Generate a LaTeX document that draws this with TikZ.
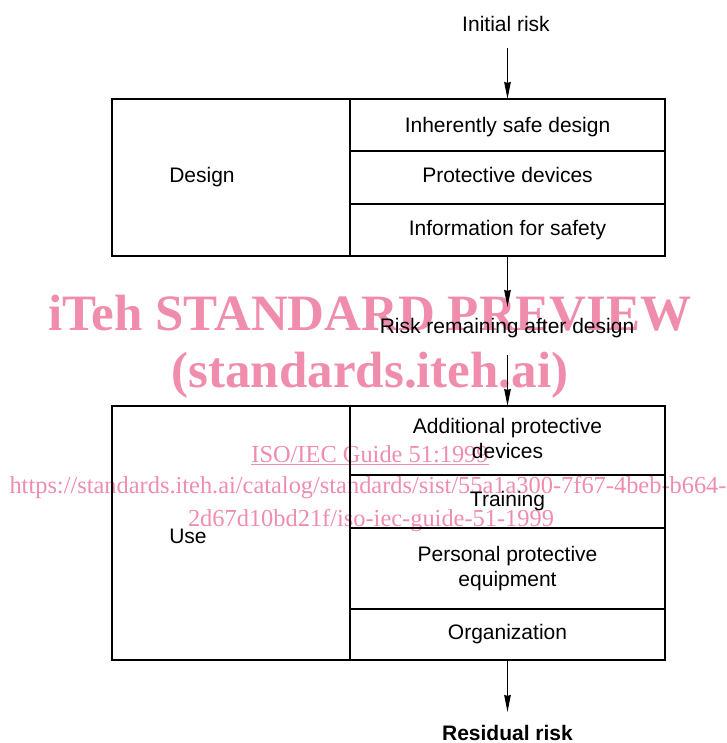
\documentclass[tikz,border=0pt]{standalone}
\usepackage{fontspec}
\setmainfont{Liberation Sans}
\newfontfamily\wmfont{Liberation Serif}
\usetikzlibrary{arrows.meta,positioning}

\definecolor{wmpink}{RGB}{240,140,172}

\tikzset{
    cell/.style={draw, line width=1.7pt, minimum width=315pt, inner sep=0pt,
        outer sep=0pt, align=center, text height=15pt, text depth=4.5pt,
        font=\fontsize{21}{25}\selectfont},
    twoline/.style={text height=40pt},
    frame/.style={draw, line width=1.7pt, minimum width=238pt, inner sep=0pt, outer sep=0pt},
    lbl/.style={inner sep=0pt, anchor=base, font=\fontsize{21}{25}\selectfont},
    flow/.style={line width=1.4pt, -{Stealth[length=17pt,width=6.5pt,inset=1pt]}},
    wm/.style={text=wmpink, inner sep=0pt, anchor=base}
}

\begin{document}
\begin{tikzpicture}[x=1pt, y=-1pt]

\useasboundingbox (0,0) rectangle (726,743);

% ========== watermark ==========
\node[wm, font=\wmfont\bfseries\fontsize{51}{51}\selectfont] (wm1) at (370,330) {iTeh STANDARD PREVIEW};
\node[wm, font=\wmfont\bfseries\fontsize{51}{51}\selectfont] (wm2) at (370,387) {(standards.iteh.ai)};
\node[wm, font=\wmfont\fontsize{24.4}{24.4}\selectfont] (wm3) at (370,462) {\underline{ISO/IEC Guide 51:1999}};
\node[wm, font=\wmfont\fontsize{24.4}{24.4}\selectfont] (wm4) at (368,493) {https://standards.iteh.ai/catalog/standards/sist/55a1a300-7f67-4beb-b664-};
\node[wm, font=\wmfont\fontsize{24.4}{24.4}\selectfont] (wm5) at (371,526) {2d67d10bd21f/iso-iec-guide-51-1999};

% ========== design stage ==========
\begin{scope}
    \node[cell, text height=20pt, minimum height=52pt] (inh) at (507.5,125) {Inherently safe design};
    \node[cell, minimum height=53pt, below=0pt of inh] (prot) {Protective devices};
    \node[cell, minimum height=52pt, below=0pt of prot] (info) {Information for safety};
    \node[frame, minimum height=157pt, anchor=north east] (designbox) at (inh.north west) {};
    \node[lbl] (design) at (202,183) {Design};
\end{scope}

% ========== use stage ==========
\begin{scope}
    \node[cell, twoline, minimum height=69pt] (addl) at (507.5,440.5) {Additional protective\\devices};
    \node[cell, minimum height=53pt, below=0pt of addl] (train) {Training};
    \node[cell, twoline, minimum height=81pt, below=0pt of train] (ppe) {Personal protective\\equipment};
    \node[cell, minimum height=51pt, below=0pt of ppe] (org) {Organization};
    \node[frame, minimum height=254pt, anchor=north east] (usebox) at (addl.north west) {};
    \node[lbl] (use) at (188,543) {Use};
\end{scope}

% risk labels
\node[lbl] (initial) at (506,32) {Initial risk};
\node[lbl] (remain) at (507,333) {Risk remaining after design};
\node[lbl, font=\bfseries\fontsize{21}{25}\selectfont] (residual) at (507.5,740) {Residual risk};

% arrows
\coordinate (a0) at (507.5,48);
\coordinate (a1) at (507.5,307);
\coordinate (a2) at (507.5,355);
\coordinate (a3) at (507.5,712);
\draw[flow] (a0) -- (inh.north);
\draw[flow] (info.south) -- (a1);
\draw[flow] (a2) -- (addl.north);
\draw[flow] (org.south) -- (a3);

\end{tikzpicture}
\end{document}
